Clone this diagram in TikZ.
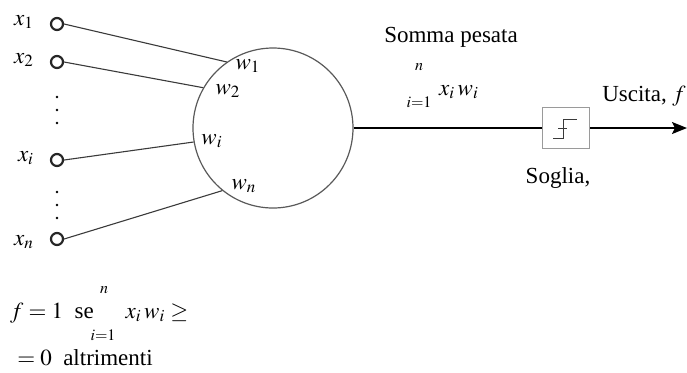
\documentclass[tikz,border=0pt]{standalone}
\usepackage{mathptmx}
\usepackage{fontspec}
\setmainfont{Liberation Serif}
\usepackage{tikz}
\usetikzlibrary{arrows.meta,positioning}
\definecolor{wiregray}{HTML}{3A3A3A}
\definecolor{boxgray}{HTML}{9A9A9A}

\begin{document}
\begin{tikzpicture}[
  x=0.5pt, y=-0.5pt,
  font=\fontsize{11.5}{13}\selectfont,
  >={Stealth[length=7.5pt, width=6pt, inset=1.5pt]},
  wire/.style={draw=wiregray, line width=0.55pt},
  inport/.style={circle, draw=black!85, line width=1.1pt, minimum size=6pt, inner sep=0pt},
  neuron/.style={circle, draw=black!65, line width=0.6pt, minimum size=80pt, inner sep=0pt},
  sogliabox/.style={draw=boxgray, line width=0.8pt, minimum width=23.5pt, minimum height=20.5pt, inner sep=0pt},
  lbl/.style={inner sep=0pt},
  lim/.style={inner sep=0pt, font=\fontsize{8}{9}\selectfont}
]
\useasboundingbox (0,0) rectangle (687,372);

%% ---- inputs ---------------------------------------------------------------
\node[inport] (in1) at (57,24) {};
\node[inport] (in2) at (57,62) {};
\node[inport] (ini) at (57,160) {};
\node[inport] (inn) at (57,239) {};

\node[lbl] (lx1) at (24,22) {$x_1$};
\node[lbl] (lx2) at (24,60) {$x_2$};
\node[lbl] (lxi) at (26,158) {$x_i$};
\node[lbl] (lxn) at (24,242) {$x_n$};

\foreach \y in {97,110,123,192,205,218}
  \fill (57,\y) circle (0.7pt);

%% ---- neuron ---------------------------------------------------------------
\node[neuron] (cell) at (273,128) {};

\draw[wire] (in1.east) -- (cell.125);
\draw[wire] (in2.east) -- (cell.150);
\draw[wire] (ini.east) -- (cell.190);
\draw[wire] (inn.east) -- (cell.231);

\node[lbl] (w1) at (248,66) {$w_1$};
\node[lbl] (w2) at (228,91) {$w_2$};
\node[lbl] (wi) at (212,141) {$w_i$};
\node[lbl] (wn) at (244,186) {$w_n$};

%% ---- weighted sum and threshold -------------------------------------------
\node[lbl] (somma) at (451,37) {Somma pesata};
\node[lim] (sumtop) at (419,67) {$n$};
\node[lim] (sumbot) at (419,102) {$i{=}1$};
\node[lbl] (sumterm) at (459,92) {$x_i\,w_i$};

\node[sogliabox] (soglia) at (566,128) {};
\draw[wire, line width=0.5pt] (553,138) -- (563,138) -- (563,119) -- (577,119);
\draw[wire, line width=0.5pt] (558,128) -- (567,128);
\node[lbl] (sogliatxt) at (558,178) {Soglia,};

\coordinate (uscita) at (687,128);
\draw[wire, line width=0.8pt, draw=black] (cell.east) -- (soglia.west);
\draw[->, line width=0.8pt] (soglia.east) -- (uscita);
\node[lbl] (uscitatxt) at (644,96) {Uscita, $f$};

%% ---- activation rule ------------------------------------------------------
\node[lbl] (rule1) at (52,313) {$f = 1$\enspace se};
\node[lim] (ruletop) at (104,290) {$n$};
\node[lim] (rulebot) at (103,335) {$i{=}1$};
\node[lbl] (ruleterm) at (157,313) {$x_i\,w_i \geq$};
\node[lbl] (rule2) at (85,358) {$= 0$\enspace altrimenti};

\end{tikzpicture}
\end{document}
